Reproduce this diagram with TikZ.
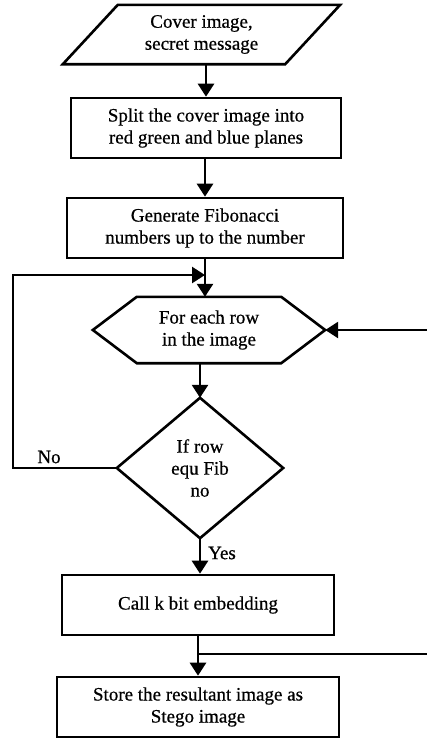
\documentclass[tikz,border=0pt]{standalone}
\usepackage{fontspec}
\setmainfont{Liberation Serif}[FakeBold=0.6]
\usetikzlibrary{arrows.meta}
\begin{document}
\begin{tikzpicture}[x=1pt,y=-1pt,
  ln/.style={line width=2.6pt},
  arr/.style={ln,-{Triangle[width=16pt,length=13pt]}},
  boxnode/.style={draw,ln,rectangle,inner sep=0pt,align=center,font=\fontsize{19}{22}\selectfont},
  ghost/.style={rectangle,inner sep=0pt,align=center,font=\fontsize{19}{22}\selectfont},
  lbl/.style={inner sep=0pt,font=\fontsize{19}{22}\selectfont}]
\useasboundingbox (0,0) rectangle (427,740);
% input parallelogram
\node[ghost,minimum width=277pt,minimum height=59pt] (in) at (201.5,34.5) {Cover image,\\secret message};
\draw[ln] ([xshift=55pt]in.north west) -- (in.north east) -- ([xshift=-55pt]in.south east) -- (in.south west) -- cycle;
% boxes
\node[boxnode,minimum width=270pt,minimum height=60pt] (spl) at (206,128) {Split the cover image into\\red green and blue planes};
\node[boxnode,minimum width=276pt,minimum height=60pt] (gen) at (205,228) {Generate Fibonacci\\numbers up to the number};
% hexagon
\node[ghost,minimum width=232pt,minimum height=66pt] (hex) at (209,330) {For each row\\in the image};
\draw[ln] (hex.west) -- ([xshift=44pt]hex.north west) -- ([xshift=-44pt]hex.north east) -- (hex.east) -- ([xshift=-44pt]hex.south east) -- ([xshift=44pt]hex.south west) -- cycle;
% diamond
\node[ghost,minimum width=166pt,minimum height=140pt] (dia) at (200,468) {If row\\equ Fib\\no};
\draw[ln] (dia.north) -- (dia.east) -- (dia.south) -- (dia.west) -- cycle;
% lower boxes
\node[boxnode,minimum width=272pt,minimum height=60pt] (call) at (198,605) {Call k bit embedding};
\node[boxnode,minimum width=282pt,minimum height=60pt] (store) at (198,707) {Store the resultant image as\\Stego image};
% coordinates
\coordinate (l1) at (13,468);
\coordinate (l2) at (13,275);
\coordinate (r1) at (427,330);
\coordinate (r2) at (427,654);
% connectors
\draw[arr] (spl.north |- in.south) -- (spl.north);
\draw[arr] (spl.south -| gen.north) -- (gen.north);
\draw[arr] (gen.south) -- (gen.south |- hex.north);
\draw[arr] (dia.west) -- (l1) -- (l2) -- (gen.south |- l2);
\draw[arr] (hex.south -| dia.north) -- (dia.north);
\draw[arr] (r1) -- (hex.east);
\draw[arr] (dia.south) -- (dia.south |- call.north);
\draw[arr] (call.south) -- (store.north);
\draw[ln] (call.south |- r2) -- (r2);
% labels
\node[lbl] (no) at (49,457) {No};
\node[lbl] (yes) at (222,553) {Yes};
\end{tikzpicture}
\end{document}
